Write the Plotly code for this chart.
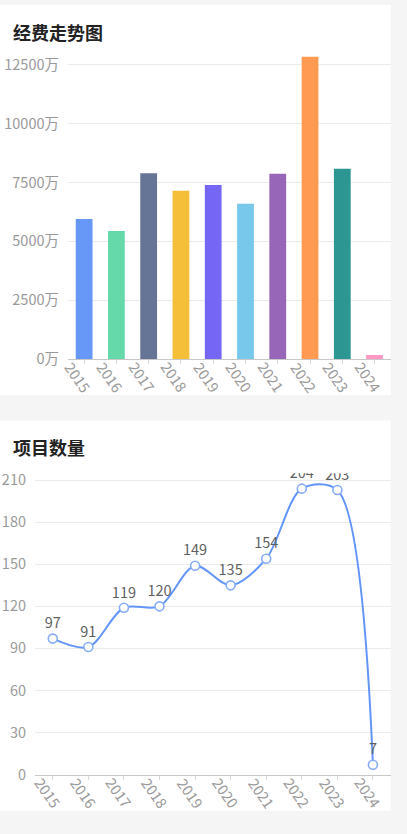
import plotly.graph_objects as go

# 数据
years = ["2015", "2016", "2017", "2018", "2019", "2020", "2021", "2022", "2023", "2024"]
funding = [5950, 5435, 7900, 7150, 7400, 6595, 7870, 12850, 8090, 170]  # 万
projects = [97, 91, 119, 120, 149, 135, 154, 204, 203, 7]
bar_colors = ["#6797F7", "#66D9AA", "#667595", "#F6BF3A", "#7666F5",
              "#78C8EC", "#9866B8", "#FF9A52", "#2C9692", "#FF99C3"]

W, H = 407, 834
FONT = "Noto Sans CJK SC"
AXIS_GRAY = "#9a9a9a"
GRID = "#ebebeb"
TICK_SIZE = 14.5


def px_x(p):
    return p / W


def px_y(p):
    return 1 - p / H


fig = go.Figure()

# 经费柱状图
fig.add_trace(go.Bar(
    x=years, y=funding,
    marker=dict(color=bar_colors, line=dict(width=0)),
    xaxis="x", yaxis="y",
    hoverinfo="x+y",
))

# 项目数量折线
fig.add_trace(go.Scatter(
    x=years, y=projects,
    mode="lines+markers+text",
    text=[str(v) for v in projects],
    textposition="top center",
    textfont=dict(family=FONT, size=TICK_SIZE, color="#5f5f5f"),
    line=dict(color="#6395F9", width=2, shape="spline", smoothing=0.9),
    marker=dict(symbol="circle", size=9, color="white",
                line=dict(color="#86acfa", width=1.6)),
    xaxis="x2", yaxis="y2",
    cliponaxis=True,
))

# 旋转的x轴标签 (按类别序号放置)
for ax, ay, dx in [("x", "y", -6.5), ("x2", "y2", -4.5)]:
    for i, yv in enumerate(years):
        fig.add_annotation(
            x=i, y=0, xref=ax, yref=ay,
            text=yv, showarrow=False, textangle=55,
            xshift=dx, yshift=-18,
            font=dict(family=FONT, size=TICK_SIZE, color=AXIS_GRAY),
        )

# 白色面板
panels = [(0, 0, 390.7, 396.7), (0, 422.7, 390.7, 819.5)]
for x0, y0, x1, y1 in panels:
    fig.add_shape(type="rect", xref="paper", yref="paper",
                  x0=px_x(x0), x1=px_x(x1), y0=px_y(y1), y1=px_y(y0),
                  fillcolor="white", line=dict(width=0), layer="below")

# 标题
fig.add_annotation(text="<b>经费走势图</b>", xref="paper", yref="paper",
                   x=px_x(11), y=px_y(27.5), xanchor="left", yanchor="middle",
                   showarrow=False, font=dict(family=FONT, size=18, color="#222222"))
fig.add_annotation(text="<b>项目数量</b>", xref="paper", yref="paper",
                   x=px_x(11), y=px_y(450), xanchor="left", yanchor="middle",
                   showarrow=False, font=dict(family=FONT, size=18, color="#222222"))

axis_common = dict(
    showgrid=True, gridcolor=GRID, gridwidth=1,
    tickfont=dict(family=FONT, size=TICK_SIZE, color=AXIS_GRAY),
    zeroline=False, fixedrange=True, tickformat="d",
)
xaxis_common = dict(
    type="category", range=[-0.5, 9.5], autorange=False,
    showgrid=False, showticklabels=False,
    showline=True, linecolor="#c8c8c8", linewidth=1,
    ticks="outside", ticklen=4, tickcolor="#d8d8d8",
    fixedrange=True,
)

fig.update_layout(
    width=W, height=H,
    margin=dict(l=0, r=0, t=0, b=0),
    paper_bgcolor="#f5f5f5",
    plot_bgcolor="rgba(0,0,0,0)",
    showlegend=False,
    bargap=0.48,
    font=dict(family=FONT),
    xaxis=dict(domain=[px_x(68), px_x(390.7)], anchor="y", **xaxis_common),
    yaxis=dict(
        domain=[px_y(360), px_y(49)],
        range=[0, 13000], dtick=2500, tick0=0,
        ticksuffix="万", ticklabelstandoff=8,
        anchor="x", **axis_common,
    ),
    xaxis2=dict(domain=[px_x(35), px_x(390.7)], anchor="y2", **xaxis_common),
    yaxis2=dict(
        domain=[px_y(782.7), px_y(476.2)],
        range=[0, 215], dtick=30, tick0=0,
        ticklabelstandoff=8,
        anchor="x2", **axis_common,
    ),
)

fig.write_html("out.html", config={"displayModeBar": False},
               post_script="document.body.style.margin='0';")
